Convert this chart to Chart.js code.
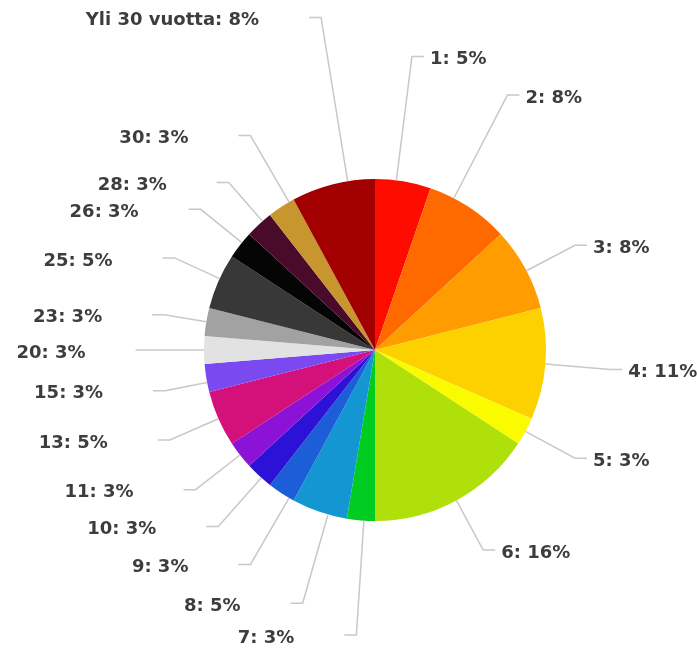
<!DOCTYPE html>
<html>
<head>
<meta charset="utf-8">
<script src="https://cdn.jsdelivr.net/npm/chart.js@4/dist/chart.umd.min.js"></script>
<style>
  html, body { margin: 0; padding: 0; background: #ffffff; }
  #wrap { width: 697px; height: 651px; position: relative; }
</style>
</head>
<body>
<div id="wrap"><canvas id="c"></canvas></div>
<script>
// ---- data ----
const categories = ["1", "2", "3", "4", "5", "6", "7", "8", "9", "10", "11", "13", "15", "20", "23", "25", "26", "28", "30", "Yli 30 vuotta"];
const counts     = [ 2,   3,   3,   4,   1,   6,   1,   2,   1,   1,    1,    2,    1,    1,    1,    2,    1,    1,    1,    3 ];
const colors = ["#fe0c00", "#ff6a00", "#ff9c00", "#fdd000", "#fbfb00", "#b0e00a", "#00cc22", "#1396d2", "#1c5ed8", "#2c12d6",
                "#8c12d8", "#d4107a", "#7a4af0", "#e2e2e2", "#a2a2a2", "#383838", "#050505", "#4a0a2a", "#c8962e", "#a20000"];

// ---- label layout hints (relative to the pie radius / slice mid angle) ----
const leaderScale  = [1.73, 1.68, 1.32, 1.38, 1.33, 1.33, 1.67, 1.54, 1.45, 1.38, 1.33, 1.31, 1.25, 1.33, 1.25, 1.29, 1.31, 1.30, 1.45, 1.97];
const leaderTurn   = [-2.3, -5.7, 0.8, 0, 0, 0, -1, -3, -3, -1, 0, 0, -1.5, 0, 0, 1, 1, 1.5, 3, 5];

const total = counts.reduce((a, b) => a + b, 0);
const labelTexts = categories.map((c, i) => c + ": " + Math.round(counts[i] / total * 100) + "%");

const outerLabels = {
  id: 'outerLabels',
  afterDatasetsDraw(chart) {
    const ctx = chart.ctx;
    const meta = chart.getDatasetMeta(0);
    ctx.save();
    ctx.font = "bold 18px 'DejaVu Sans'";
    ctx.textBaseline = 'middle';
    meta.data.forEach((arc, i) => {
      const p = arc.getProps(['x', 'y', 'startAngle', 'endAngle', 'outerRadius'], true);
      const a = (p.startAngle + p.endAngle) / 2 + leaderTurn[i] * Math.PI / 180;
      const cos = Math.cos(a), sin = Math.sin(a);
      const x0 = p.x + p.outerRadius * cos, y0 = p.y + p.outerRadius * sin;
      const r1 = p.outerRadius * leaderScale[i];
      const x1 = p.x + r1 * cos, y1 = p.y + r1 * sin;
      const right = cos >= 0;
      const x2 = x1 + (right ? 12 : -12);
      ctx.strokeStyle = '#c8c8c8';
      ctx.lineWidth = 1.5;
      ctx.beginPath();
      ctx.moveTo(x0, y0);
      ctx.lineTo(x1, y1);
      ctx.lineTo(x2, y1);
      ctx.stroke();
      ctx.fillStyle = '#3d3d3d';
      if (right) {
        ctx.textAlign = 'left';
        ctx.fillText(labelTexts[i], x2 + 6, y1 + 3);
      } else {
        ctx.textAlign = 'right';
        ctx.fillText(labelTexts[i], x2 - 50, y1 + 3);
      }
    });
    ctx.restore();
  }
};

new Chart(document.getElementById('c'), {
  type: 'pie',
  data: {
    labels: categories,
    datasets: [{
      data: counts,
      backgroundColor: colors,
      borderWidth: 0
    }]
  },
  options: {
    responsive: true,
    maintainAspectRatio: false,
    animation: false,
    layout: { padding: { left: 204, right: 151, top: 179, bottom: 130 } },
    plugins: {
      legend: { display: false },
      tooltip: { enabled: false }
    }
  },
  plugins: [outerLabels]
});
</script>
</body>
</html>
